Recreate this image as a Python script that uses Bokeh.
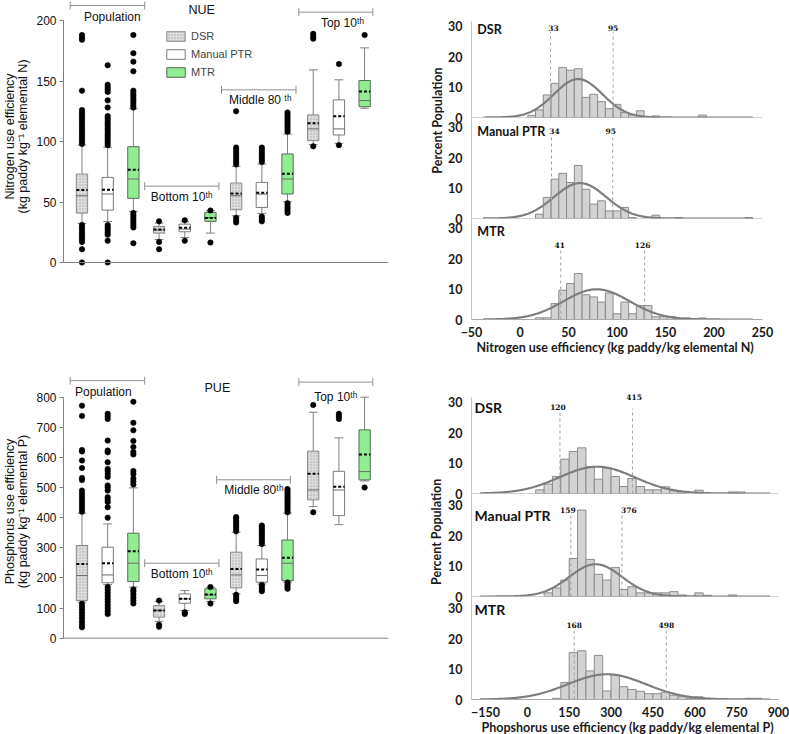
import numpy as np
from bokeh.plotting import figure
from bokeh.models import Range1d, Span, Legend, LegendItem, FixedTicker
from bokeh.layouts import row, column
from bokeh.embed import file_html
from bokeh.resources import INLINE
from bokeh.core.properties import value

# ======================= DATA =======================
methods = ["DSR", "Manual PTR", "MTR"]
box_x = [1, 2, 3, 4, 5, 6, 7, 8, 9, 10, 11, 12]   # Pop(DSR,Man,MTR), Bottom10, Middle80, Top10
nue_groups = ["Population", "Bottom 10ᵗʰ", "Middle 80 ᵗʰ", "Top 10ᵗʰ"]
pue_groups = ["Population", "Bottom 10ᵗʰ", "Middle 80ᵗʰ", "Top 10ᵗʰ"]

# ---- NUE box plots ----
nue_q1 = [40.8, 43.3, 53.0, 24.3, 25.4, 34.0, 43.6, 45.5, 56.6, 100.7, 105.4, 128.8]
nue_q3 = [73.1, 70.3, 95.7, 29.8, 31.7, 41.4, 65.7, 66.2, 89.7, 122.0, 134.4, 150.4]
nue_median = [55.2, 56.6, 69.0, 26.8, 27.6, 37.2, 55.2, 56.5, 69.0, 110.4, 110.4, 133.8]
nue_mean = [59.9, 60.1, 76.7, 27.3, 28.7, 36.7, 57.1, 57.6, 73.4, 115.0, 120.8, 141.3]
nue_wlo = [32.3, 33.9, 42.2, 19.0, 20.7, 24.3, 38.6, 40.6, 50.2, 97.4, 98.5, 127.5]
nue_whi = [97.1, 95.2, 127.0, 32.6, 33.7, 42.8, 79.5, 81.4, 106.2, 159.2, 151.0, 177.4]
nue_outliers = [
    [0, 11, 17, 19, 21, 23, 25, 27, 29, 31, 98, 100, 102, 104, 106, 108, 110, 112, 114, 116, 118, 120, 122, 124, 126, 142, 184, 186, 188],
    [0, 18, 23, 25, 27, 29, 31, 97, 99, 101, 103, 105, 107, 109, 111, 113, 115, 117, 119, 121, 128, 134, 141, 143, 145, 147, 163],
    [16, 29, 31, 33, 35, 37, 39, 41, 128, 130, 132, 134, 136, 138, 140, 142, 158, 166, 173, 188],
    [11, 17, 34],
    [18, 35],
    [16.5, 43],
    [33, 35, 37, 81, 83, 85, 87, 89, 91, 93, 95, 125],
    [34, 36, 38, 83, 85, 87, 89, 91, 93, 95],
    [41, 43, 45, 47, 49, 108, 110, 112, 114, 116, 118, 120, 122, 124],
    [96, 185, 187, 189],
    [97, 164],
    [188],
]

# ---- PUE box plots ----
pue_q1 = [125, 184, 188, 70, 116, 130.6, 167, 186, 191, 459, 407, 525.6]
pue_q3 = [307.6, 302, 348.6, 108, 147, 164, 285.5, 263, 326, 621, 554, 691.6]
pue_median = [208, 210, 249, 92, 130.6, 144, 210, 208, 249, 492, 492, 553]
pue_mean = [246.7, 249, 288.8, 92, 130.6, 145, 230, 228, 267, 545.5, 503, 609.7]
pue_wlo = [120, 178, 170, 56, 92, 122, 147, 180, 186, 437, 377, 522]
pue_whi = [415, 379.5, 499, 122, 158, 169, 352, 307.6, 415, 750, 665, 800]
pue_outliers = [
    [36, 45, 55, 65, 75, 85, 95, 105, 114, 420, 430, 440, 450, 460, 470, 480, 490, 525, 532, 565, 590, 620, 625, 738, 772],
    [80, 90, 100, 110, 120, 130, 140, 150, 160, 170, 400, 435, 452, 460, 468, 490, 500, 507, 535, 545, 555, 562, 584, 617, 623, 656, 728, 737, 745],
    [115, 125, 135, 145, 155, 162, 510, 520, 530, 545, 555, 610, 618, 635, 655, 690, 715, 785],
    [38, 45, 125],
    [80, 86],
    [115, 170],
    [123, 130, 137, 144, 355, 362, 369, 376, 383, 390, 397, 402],
    [156, 163, 170, 177, 313, 320, 327, 334, 341, 348, 355, 362, 369, 374],
    [164, 171, 178, 185, 418, 425, 432, 439, 446, 453, 460, 467, 474, 481, 488, 495],
    [418, 774],
    [728, 737, 745],
    [500],
]

# ---- NUE histograms (percent of population, bin width 8) ----
nue_bin_w = 8
nue_dsr_left = [8, 16, 24, 32, 40, 48, 56, 64, 72, 80, 88, 96, 104, 112, 120, 136, 184]
nue_dsr_pct = [0.7, 2.5, 7.4, 11.2, 16.4, 15.5, 16.0, 6.6, 7.6, 5.2, 2.9, 4.3, 1.6, 0.8, 2.2, 0.5, 0.8]
nue_man_left = [16, 24, 32, 40, 48, 56, 64, 72, 80, 88, 96, 104, 112, 136, 160, 232]
nue_man_pct = [1.4, 6.9, 12.9, 14.8, 11.8, 17.4, 9.6, 4.7, 5.8, 2.5, 2.5, 3.6, 0.3, 1.1, 0.3, 0.3]
nue_mtr_left = [16, 24, 32, 40, 48, 56, 64, 72, 80, 88, 96, 104, 112, 120, 128, 136, 144, 152, 168, 184]
nue_mtr_pct = [0.55, 0.55, 5.2, 9.6, 11.8, 15.1, 8.1, 7.4, 5.7, 8.7, 1.9, 5.7, 1.9, 4.6, 4.6, 0.9, 0.9, 1.0, 0.5, 0.5]
nue_fit_mean = [60, 62, 79]
nue_fit_sd = [25, 27, 34]
nue_fit_peak = [12.6, 11.6, 9.9]
nue_cut_labels = [["33", "95"], ["34", "95"], ["41", "126"]]
nue_cut_pos = [[31.5, 96], [32.5, 95.5], [42, 128.5]]
nue_xticks = [-50, 0, 50, 100, 150, 200, 250]

# ---- PUE histograms (percent of population, bin width 30) ----
pue_bin_w = 30
pue_dsr_left = [30, 60, 90, 120, 150, 180, 210, 240, 270, 300, 330, 360, 390, 420, 450, 480, 510, 540, 600, 720, 750]
pue_dsr_pct = [1.2, 3.1, 5.6, 11.3, 13.8, 15.0, 8.8, 4.7, 8.3, 5.6, 2.3, 4.9, 2.3, 1.2, 1.2, 2.2, 0.9, 0.5, 1.1, 0.5, 0.5]
pue_man_left = [60, 90, 120, 150, 180, 210, 240, 270, 300, 330, 360, 390, 420, 450, 480, 510, 540, 600, 630, 720]
pue_man_pct = [1.2, 2.8, 5.4, 12.5, 28.4, 12.2, 7.3, 5.4, 9.5, 2.3, 3.2, 1.2, 1.2, 1.2, 1.2, 1.6, 0.5, 1.2, 0.4, 0.5]
pue_mtr_left = [90, 120, 150, 180, 210, 240, 270, 300, 330, 360, 390, 420, 450, 480, 510, 540, 570, 600, 630, 660, 690, 780, 810]
pue_mtr_pct = [0.4, 5.6, 15.4, 16.0, 9.4, 14.5, 2.8, 8.1, 4.2, 3.3, 2.7, 1.9, 1.9, 2.4, 1.4, 0.9, 0.4, 0.9, 0.4, 0.3, 0.3, 0.4, 0.4]
pue_fit_mean = [250, 245, 285]
pue_fit_sd = [135, 95, 140]
pue_fit_peak = [8.8, 10.6, 8.3]
pue_cut_labels = [["120", "415"], ["159", "376"], ["168", "498"]]
pue_cut_pos = [[117, 377], [156, 339], [168, 498]]
pue_xticks = [-150, 0, 150, 300, 450, 600, 750, 900]

hist_yticks = [0, 10, 20, 30]

# ======================= STYLE =======================
GREY = "#808080"
FILLS = ["#dedede", "#ffffff", "#90ee90"]
EDGES = ["#8a8a8a", "#7a7a7a", "#5a6a5a"]
AR = "Liberation Sans"
HF = "Lato"
BOX_XR = (0.2805, 12.93)
BOX_W = 0.44
CAP_W = 0.34
HW = 344          # width of histogram figures
HL = 22           # left border of histogram figures
OV = 7            # overlap between stacked histogram panels (room for the "0" label)


def style_common(p, transparent=False):
    p.grid.grid_line_color = None
    p.outline_line_color = None
    if transparent:
        p.background_fill_alpha = 0
        p.border_fill_alpha = 0
    else:
        p.background_fill_color = "white"
        p.border_fill_color = "white"


def box_figure(q1, q3, med, mean, wlo, whi, outs, groups, br_x, br_y, lab_xy,
               title, title_xy, yr, yticks, ybounds, ylabel, height, mb_bottom, kpx, legend):
    p = figure(width=395, height=height, x_range=Range1d(*BOX_XR), y_range=Range1d(*yr),
               x_axis_location=None, output_backend="svg", toolbar_location=None,
               min_border_left=61, min_border_right=7, min_border_top=0,
               min_border_bottom=mb_bottom)
    style_common(p)
    ax = p.yaxis[0]
    ax.ticker = FixedTicker(ticks=yticks)
    ax.bounds = ybounds
    ax.axis_line_color = GREY
    ax.major_tick_line_color = GREY
    ax.major_tick_out = 4
    ax.major_tick_in = 0
    ax.minor_tick_line_color = None
    ax.major_label_text_font = AR
    ax.major_label_text_font_size = "12px"
    ax.major_label_text_color = "#111111"
    ax.major_label_standoff = 3
    ax.axis_label = ylabel
    ax.axis_label_text_font = AR
    ax.axis_label_text_font_size = "12.5px"
    ax.axis_label_text_font_style = "normal"
    ax.axis_label_text_line_height = 0.95
    ax.axis_label_text_color = "#111111"
    ax.axis_label_standoff = 3

    p.add_layout(Span(location=0, dimension="width", line_color=GREY, line_width=1))

    p.segment(x0=box_x, y0=wlo, x1=box_x, y1=whi, line_color=GREY, line_width=1)
    cx0 = [x - CAP_W / 2 for x in box_x]
    cx1 = [x + CAP_W / 2 for x in box_x]
    p.segment(x0=cx0, y0=wlo, x1=cx1, y1=wlo, line_color=GREY, line_width=1)
    p.segment(x0=cx0, y0=whi, x1=cx1, y1=whi, line_color=GREY, line_width=1)

    rends = []
    for m in range(3):
        idx = [i for i in range(12) if i % 3 == m]
        kw = {}
        if m == 0:
            kw = dict(hatch_pattern="dot", hatch_color="#a8a8a8", hatch_scale=3, hatch_weight=1)
        r = p.vbar(x=[box_x[i] for i in idx], width=BOX_W,
                   top=[q3[i] for i in idx], bottom=[q1[i] for i in idx],
                   fill_color=FILLS[m], line_color=EDGES[m], line_width=1, **kw)
        rends.append(r)

    bx0 = [x - BOX_W / 2 for x in box_x]
    bx1 = [x + BOX_W / 2 for x in box_x]
    p.segment(x0=bx0, y0=med, x1=bx1, y1=med, line_color="#6a6a6a", line_width=1)
    p.segment(x0=bx0, y0=mean, x1=bx1, y1=mean, line_color="black", line_width=2,
              line_dash="3 2")

    ox = [box_x[i] for i, vals in enumerate(outs) for v in vals]
    oy = [v for vals in outs for v in vals]
    p.scatter(x=ox, y=oy, size=5.5, fill_color="black", line_color="black", line_width=0.5)

    d = 4.0 / kpx
    hx0 = [b[0] for b in br_x]
    hx1 = [b[1] for b in br_x]
    p.segment(x0=hx0, y0=br_y, x1=hx1, y1=br_y, line_color="#909090", line_width=1)
    p.segment(x0=hx0, y0=[y - d for y in br_y], x1=hx0, y1=[y + d for y in br_y],
              line_color="#909090", line_width=1)
    p.segment(x0=hx1, y0=[y - d for y in br_y], x1=hx1, y1=[y + d for y in br_y],
              line_color="#909090", line_width=1)
    p.text(x=[a[0] for a in lab_xy], y=[a[1] for a in lab_xy], text=groups,
           text_font=value(AR), text_font_size="12px", text_align="center",
           text_baseline="middle", text_color="#111111")
    p.text(x=[title_xy[0]], y=[title_xy[1]], text=[title], text_font=value(AR),
           text_font_size="12.5px", text_align="center", text_baseline="middle",
           text_color="#111111")

    if legend:
        lg = Legend(items=[LegendItem(label=methods[m], renderers=[rends[m]]) for m in range(3)],
                    location=(101, 194), glyph_width=23, glyph_height=12, label_height=12,
                    spacing=6, padding=0, margin=0, border_line_color=None,
                    background_fill_alpha=0, label_text_font=AR, label_text_font_size="11px",
                    label_standoff=4)
        p.add_layout(lg)
    return p


def hist_figure(lefts, pct, binw, mu, sd, peak, cut_pos, cut_lab, cut_y, cut_top, cut_dx,
                name, name_xy, name_size, xr, frame_w, ymax, height, mb_top, mb_bottom,
                xaxis, xticks, ytop_bound, curve_x, overlap):
    kw = dict(margin=(-OV, 0, 0, 0)) if overlap else {}
    p = figure(width=HW, height=height, x_range=Range1d(*xr), y_range=Range1d(0, ymax),
               x_axis_location="below" if xaxis else None,
               output_backend="svg", toolbar_location=None,
               min_border_left=HL, min_border_right=HW - HL - frame_w,
               min_border_top=mb_top, min_border_bottom=mb_bottom, **kw)
    style_common(p, transparent=overlap)
    ay = p.yaxis[0]
    ay.ticker = FixedTicker(ticks=hist_yticks)
    if ytop_bound is not None:
        ay.bounds = (0, ytop_bound)
    ay.axis_line_color = "#c4c4c4"
    ay.major_tick_line_color = None
    ay.minor_tick_line_color = None
    ay.major_label_text_font = HF
    ay.major_label_text_font_style = "bold"
    ay.major_label_text_font_size = "12.5px"
    ay.major_label_text_color = "#1a1a1a"
    ay.major_label_standoff = 3
    if xaxis:
        ax = p.xaxis[0]
        ax.ticker = FixedTicker(ticks=xticks)
        ax.axis_line_color = "#a8a8a8"
        ax.major_tick_line_color = None
        ax.minor_tick_line_color = None
        ax.major_label_text_font = HF
        ax.major_label_text_font_style = "bold"
        ax.major_label_text_font_size = "12.5px"
        ax.major_label_text_color = "#1a1a1a"
        ax.major_label_standoff = 1
    else:
        p.add_layout(Span(location=0, dimension="width", line_color="#a8a8a8", line_width=1))

    rights = [l + binw for l in lefts]
    p.quad(left=lefts, right=rights, bottom=0, top=pct, fill_color="#d3d3d3",
           line_color="#8c8c8c", line_width=1)
    xs = np.linspace(curve_x[0], curve_x[1], 400)
    ys = peak * np.exp(-0.5 * ((xs - mu) / sd) ** 2)
    p.line(xs, ys, line_color="#7d7d7d", line_width=2.2)
    p.segment(x0=cut_pos, y0=[0, 0], x1=cut_pos, y1=cut_top, line_color="#a0a0a0",
              line_width=1, line_dash="3 3")
    p.text(x=cut_pos, y=cut_y, text=cut_lab, x_offset=cut_dx, text_font=value("DejaVu Serif"),
           text_font_style="bold", text_font_size="7.5px", text_align="center",
           text_baseline="middle", text_color="#111111")
    p.text(x=[name_xy[0]], y=[name_xy[1]], text=[name], text_font=value(HF),
           text_font_style="bold", text_font_size=name_size, text_align="left",
           text_baseline="middle", text_color="#111111")
    return p


def text_figure(w, h, tx, ty, text, angle, size):
    """A blank canvas holding one axis-title text (positions in canvas pixels)."""
    p = figure(width=w, height=h, x_range=Range1d(0, w), y_range=Range1d(0, h),
               x_axis_location=None, y_axis_location=None, min_border=0,
               output_backend="svg", toolbar_location=None)
    style_common(p)
    p.text(x=[tx], y=[ty], text=[text], angle=angle, text_font=value(HF),
           text_font_style="bold", text_font_size=size, text_align="center",
           text_baseline="middle", text_color="#1a1a1a")
    return p


# ======================= BUILD =======================
k_nue = 1.21
pA = box_figure(nue_q1, nue_q3, nue_median, nue_mean, nue_wlo, nue_whi, nue_outliers,
                nue_groups,
                br_x=[(0.54, 3.44), (3.44, 6.33), (6.43, 9.33), (9.44, 12.32)],
                br_y=[212.4, 63.1, 142.7, 206.9],
                lab_xy=[(2.18, 202.5), (4.88, 54.0), (7.94, 133.9), (11.14, 197.8)],
                title="NUE", title_xy=(5.66, 208.3),
                yr=(-10 / k_nue, 262 / k_nue), yticks=[0, 50, 100, 150, 200], ybounds=(0, 200),
                ylabel="Nitrogen use efficiency\n(kg paddy kg⁻¹ elemental N)",
                height=376, mb_bottom=104, kpx=k_nue, legend=True)

k_pue = 0.30125
pB = box_figure(pue_q1, pue_q3, pue_median, pue_mean, pue_wlo, pue_whi, pue_outliers,
                pue_groups,
                br_x=[(0.54, 3.44), (3.44, 6.33), (6.24, 9.11), (9.44, 12.32)],
                br_y=[855, 249, 525.8, 850],
                lab_xy=[(1.83, 816.6), (4.88, 213.8), (7.69, 490.3), (10.88, 800)],
                title="PUE", title_xy=(6.27, 830),
                yr=(-8.3 / k_pue, 261.7 / k_pue), yticks=list(range(0, 801, 100)), ybounds=(0, 800),
                ylabel="Phosphorus use efficiency\n(kg paddy kg⁻¹ elemental P)",
                height=358, mb_bottom=88, kpx=k_pue, legend=False)

# panel geometry: (frame height, top border, bottom border)
ky_n = 3.05
nue_sets = [(nue_dsr_left, nue_dsr_pct), (nue_man_left, nue_man_pct), (nue_mtr_left, nue_mtr_pct)]
nue_name_y = [29.0, 28.4, 29.0]
nue_cut_y = [[29.2, 29.2], [28.7, 28.7], [24.4, 24.4]]
nue_cut_top = [[28.1, 28.1], [27.4, 27.4], [23.3, 23.3]]
nue_cut_dx = [[3, 0], [3, -2], [-1, -2]]
nue_geom = [(100, 17, OV), (101, 0, OV), (101, 0, 20)]
nue_figs = []
for i in range(3):
    fh, mt, mb = nue_geom[i]
    nue_figs.append(hist_figure(
        nue_sets[i][0], nue_sets[i][1], nue_bin_w, nue_fit_mean[i], nue_fit_sd[i], nue_fit_peak[i],
        nue_cut_pos[i], nue_cut_labels[i], nue_cut_y[i], nue_cut_top[i], nue_cut_dx[i],
        methods[i], (-44, nue_name_y[i]), "12.5px", (-50, 250), 295, fh / ky_n, fh + mt + mb,
        mt, mb, xaxis=(i == 2), xticks=nue_xticks,
        ytop_bound=31.4 if i == 0 else None, curve_x=(-38, 240), overlap=(i > 0)))
nue_xlab = text_figure(HW, 37, 170, 29, "Nitrogen use efficiency (kg paddy/kg elemental N)",
                       0, "12.5px")
nue_ylab = text_figure(50, 376, 42, 376 - 166, "Percent Population", np.pi / 2, "12.5px")

ky_p = 3.043
pue_sets = [(pue_dsr_left, pue_dsr_pct), (pue_man_left, pue_man_pct), (pue_mtr_left, pue_mtr_pct)]
pue_name_y = [28.4, 26.6, 29.5]
pue_cut_y = [[28.5, 31.6], [28.3, 28.3], [24.6, 24.6]]
pue_cut_top = [[27.0, 27.9], [27.2, 27.2], [23.2, 23.2]]
pue_cut_dx = [[-2, 1.5], [-3, 7], [0, 0]]
pue_geom = [(103, 14, OV), (103, 0, OV), (103, 0, 20)]
pue_figs = []
for i in range(3):
    fh, mt, mb = pue_geom[i]
    pue_figs.append(hist_figure(
        pue_sets[i][0], pue_sets[i][1], pue_bin_w, pue_fit_mean[i], pue_fit_sd[i], pue_fit_peak[i],
        pue_cut_pos[i], pue_cut_labels[i], pue_cut_y[i], pue_cut_top[i], pue_cut_dx[i],
        methods[i], (-189, pue_name_y[i]), "14px", (-200, 900), 311, fh / ky_p, fh + mt + mb,
        mt, mb, xaxis=(i == 2), xticks=pue_xticks,
        ytop_bound=31.6 if i == 0 else None, curve_x=(-170, 870), overlap=(i > 0)))
pue_xlab = text_figure(HW, 15, 175, 7, "Phopshorus use efficiency (kg paddy/kg elemental P)",
                       0, "12.5px")
pue_ylab = text_figure(50, 358, 41, 152, "Percent Population", np.pi / 2, "12.5px")

layout = column(
    row(pA, nue_ylab, column(*nue_figs, nue_xlab, spacing=0), spacing=0),
    row(pB, pue_ylab, column(*pue_figs, pue_xlab, spacing=0), spacing=0),
    spacing=0)

open("out.html", "w").write(file_html(layout, INLINE))
